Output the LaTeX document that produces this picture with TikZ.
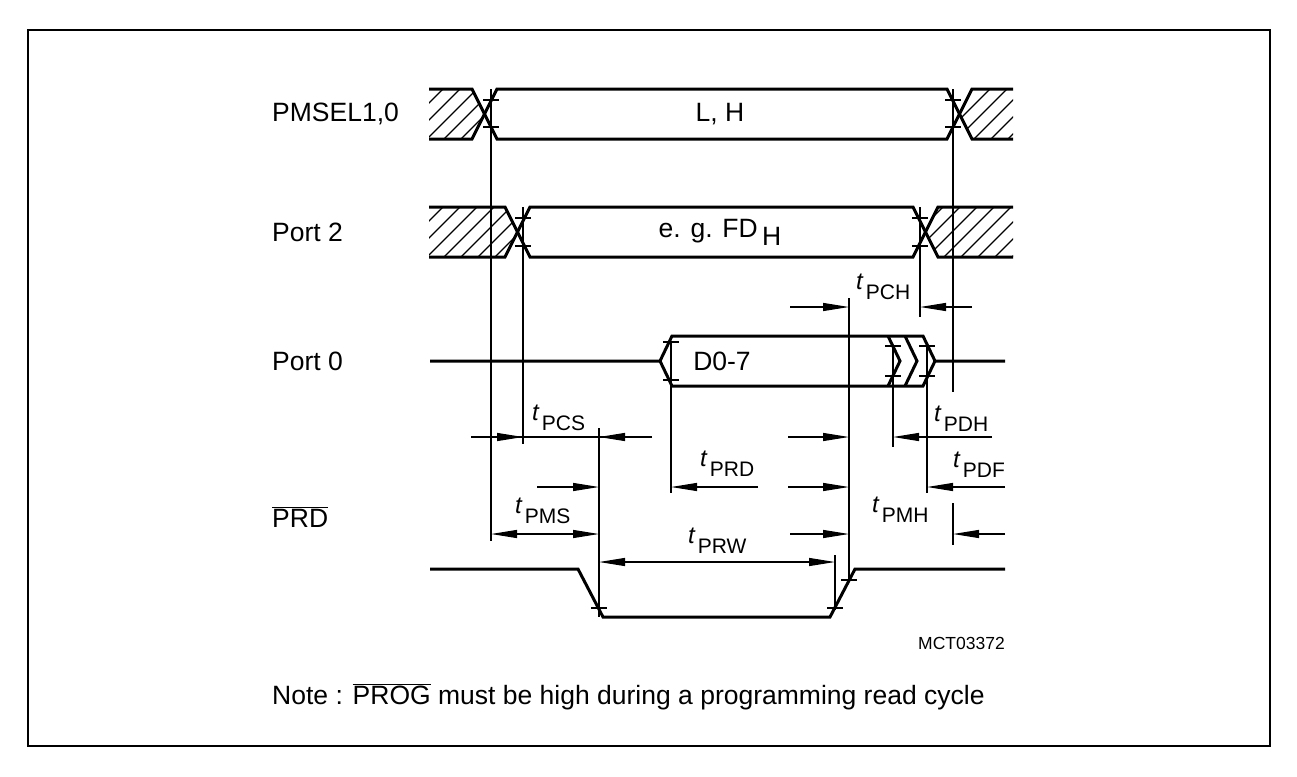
\documentclass[tikz,border=0pt]{standalone}
\usepackage{fontspec}
\setmainfont{Liberation Sans}
\usetikzlibrary{arrows.meta}
\newcommand{\tlab}[1]{{\fontsize{24}{24}\selectfont\itshape t}\hspace{3pt}\raisebox{-10pt}{\fontsize{21}{21}\selectfont #1}}
\newcommand{\tk}[2]{\draw[thinl] (#1-8,#2) -- (#1+8,#2);}
\begin{document}
\begin{tikzpicture}[x=1pt,y=-1pt,
  sig/.style={line width=3pt},
  thinl/.style={line width=1.2pt},
  hatchl/.style={line width=1.1pt},
  dimarr/.style={line width=1.2pt,-{Triangle[length=26pt,width=8pt]}},
  lbl/.style={font=\fontsize{26.5}{26.5}\selectfont, inner sep=0pt},
  tl/.style={anchor=base west, inner sep=0pt}]
\useasboundingbox (0,0) rectangle (1297,776);
\draw[line width=1.5pt] (28,30) rectangle (1270,746);

% hatching
\begin{scope}
\clip (429,89) -- (472,89) -- (484.5,114) -- (472,139) -- (429,139) -- cycle;
\foreach \k in {0,...,12} \draw[hatchl] (370+17*\k,145) -- ++(60,-60);
\end{scope}
\begin{scope}
\clip (959.5,114) -- (972,89) -- (1013,89) -- (1013,139) -- (972,139) -- cycle;
\foreach \k in {0,...,8} \draw[hatchl] (900+17*\k,145) -- ++(60,-60);
\end{scope}
\begin{scope}
\clip (429,207) -- (505,207) -- (517.5,232) -- (505,257) -- (429,257) -- cycle;
\foreach \k in {0,...,14} \draw[hatchl] (370+17*\k,263) -- ++(60,-60);
\end{scope}
\begin{scope}
\clip (925.5,232) -- (938,207) -- (1013,207) -- (1013,257) -- (938,257) -- cycle;
\foreach \k in {0,...,10} \draw[hatchl] (870+17*\k,263) -- ++(60,-60);
\end{scope}

% signals
\draw[sig] (429,89) -- (472,89) -- (497,139) -- (947,139) -- (972,89) -- (1013,89);
\draw[sig] (429,139) -- (472,139) -- (497,89) -- (947,89) -- (972,139) -- (1013,139);
\draw[sig] (429,207) -- (505,207) -- (530,257) -- (913,257) -- (938,207) -- (1013,207);
\draw[sig] (429,257) -- (505,257) -- (530,207) -- (913,207) -- (938,257) -- (1013,257);
\draw[sig] (430,361) -- (660,361) -- (672,336) -- (923,336) -- (935,361) -- (1005,361);
\draw[sig] (660,361) -- (672,386) -- (923,386) -- (935,361);
\draw[sig] (888,336) -- (900,361) -- (888,386);
\draw[sig] (905,336) -- (917,361) -- (905,386);
\draw[sig] (430,569) -- (578,569) -- (603,617) -- (830,617) -- (855,569) -- (1005,569);

% vertical reference lines
\draw[thinl] (491,89) -- (491,541);
\draw[thinl] (523,207) -- (523,444);
\draw[thinl] (599,428) -- (599,617);
\draw[thinl] (671,342) -- (671,493);
\draw[thinl] (849,298) -- (849,580);
\draw[thinl] (835,555) -- (835,610);
\draw[thinl] (893,346) -- (893,447);
\draw[thinl] (927,346) -- (927,493);
\draw[thinl] (920,207) -- (920,317);
\draw[thinl] (953,89) -- (953,392);
\draw[thinl] (953,503) -- (953,545);

% ticks
\tk{491}{100}\tk{491}{127}\tk{953}{100}\tk{953}{127}
\tk{523}{218}\tk{523}{246}\tk{920}{218}\tk{920}{246}
\tk{671}{342}\tk{671}{380}\tk{893}{346}\tk{893}{376}\tk{927}{346}\tk{927}{376}
\tk{599}{608}\tk{835}{608}\tk{849}{580}

% dimension arrows
\draw[dimarr] (790,307) -- (849,307);
\draw[dimarr] (972,307) -- (920,307);
\draw[thinl] (471,437) -- (652,437);
\draw[dimarr] (471,437) -- (523,437);
\draw[dimarr] (652,437) -- (599,437);
\draw[dimarr] (788,437) -- (849,437);
\draw[dimarr] (992,437) -- (893,437);
\draw[dimarr] (537,487) -- (599,487);
\draw[dimarr] (758,487) -- (671,487);
\draw[dimarr] (788,487) -- (849,487);
\draw[dimarr] (1005,487) -- (927,487);
\draw[dimarr] (545,534) -- (491,534);
\draw[dimarr] (540,534) -- (599,534);
\draw[dimarr] (790,534) -- (849,534);
\draw[dimarr] (1005,534) -- (953,534);
\draw[dimarr] (717,562) -- (599,562);
\draw[dimarr] (717,562) -- (835,562);

% labels
\node[lbl, anchor=west] (pmsel) at (272,114) {PMSEL1,0};
\node[lbl, anchor=west] (port2) at (272,232) {Port 2};
\node[lbl, anchor=west] (port0) at (272,361) {Port 0};
\node[lbl, anchor=west] (prd) at (272,517) {$\overline{\mbox{PRD}}$};
\node[lbl] (lh) at (720,114) {L, H};
\node[lbl] (fdh) at (720,232) {e. g. FD\,\raisebox{-8pt}{H}};
\node[lbl] (d07) at (722,361) {D0-7};

\node[tl] (tpch) at (856,289) {\tlab{PCH}};
\node[tl] (tpcs) at (532,420) {\tlab{PCS}};
\node[tl] (tpdh) at (934,421) {\tlab{PDH}};
\node[tl] (tpdf) at (953,467) {\tlab{PDF}};
\node[tl] (tprd) at (700,466) {\tlab{PRD}};
\node[tl] (tpmh) at (872,512) {\tlab{PMH}};
\node[tl] (tpms) at (515,513) {\tlab{PMS}};
\node[tl] (tprw) at (688,543) {\tlab{PRW}};

\node[anchor=base east, inner sep=0pt, font=\fontsize{17.5}{17.5}\selectfont] (mct) at (1005,649) {MCT03372};
\node[lbl, anchor=base west] (note) at (272,704) {Note : $\overline{\mbox{PROG}}$ must be high during a programming read cycle};
\end{tikzpicture}
\end{document}
